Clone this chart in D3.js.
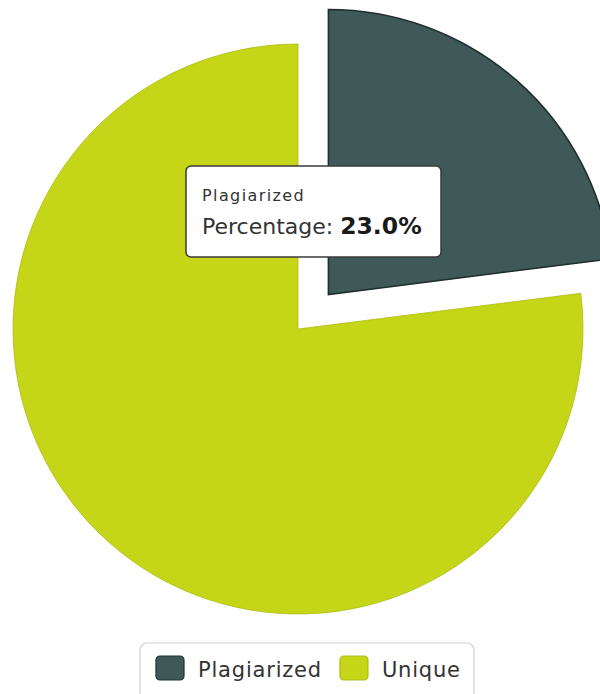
<!DOCTYPE html>
<html>
<head>
<meta charset="utf-8">
<script src="https://cdn.jsdelivr.net/npm/d3@7"></script>
<style>
  html, body { margin: 0; padding: 0; background: #ffffff; }
  svg { display: block; }
  text { font-family: "DejaVu Sans", sans-serif; }
</style>
</head>
<body>
<svg id="chart" width="600" height="694"></svg>
<script>
const categories = ["Plagiarized", "Unique"];
const values = [23.0, 77.0];
const colors = ["#3e5958", "#c5d518"];
const strokes = ["#1f2e2e", "#aebd10"];
const tooltipTitle = "Plagiarized";
const tooltipLabel = "Percentage: ";
const tooltipValue = "23.0%";

const svg = d3.select("#chart");
const cx = 298, cy = 329, radius = 285, explode = 46;

const pie = d3.pie().sort(null).value(d => d)(values);
const arc = d3.arc().innerRadius(0).outerRadius(radius);

const g = svg.append("g").attr("transform", `translate(${cx},${cy})`);
g.selectAll("path.slice")
  .data(pie)
  .join("path")
  .attr("class", "slice")
  .attr("d", arc)
  .attr("fill", (d, i) => colors[i])
  .attr("stroke", (d, i) => strokes[i])
  .attr("stroke-width", (d, i) => i === 0 ? 1.6 : 0.8)
  .attr("transform", (d, i) => {
    if (i !== 0) return null;
    const a = (d.startAngle + d.endAngle) / 2;
    return `translate(${Math.sin(a) * explode},${-Math.cos(a) * explode})`;
  });

// Tooltip
const tip = svg.append("g").attr("transform", "translate(186,166)");
tip.append("rect")
  .attr("x", 0).attr("y", 0).attr("width", 255).attr("height", 91)
  .attr("rx", 5)
  .attr("fill", "#ffffff")
  .attr("stroke", "#3a3a3a")
  .attr("stroke-width", 1.5);
tip.append("text")
  .attr("x", 16).attr("y", 35)
  .attr("font-size", 16)
  .attr("letter-spacing", 1.4)
  .attr("fill", "#333")
  .text(tooltipTitle);
const t2 = tip.append("text")
  .attr("x", 16).attr("y", 68)
  .attr("font-size", 22)
  .attr("fill", "#333");
t2.append("tspan").text(tooltipLabel);
t2.append("tspan").attr("font-weight", "bold").attr("font-size", 23.5).attr("fill", "#1a1a1a").text(tooltipValue);

// Legend
const legend = svg.append("g");
legend.append("rect")
  .attr("x", 140).attr("y", 643).attr("width", 334).attr("height", 62)
  .attr("rx", 7)
  .attr("fill", "#ffffff")
  .attr("stroke", "#cfcfcf")
  .attr("stroke-width", 1.2);
let lx = 156;
categories.forEach((c, i) => {
  legend.append("rect")
    .attr("x", lx).attr("y", 656).attr("width", 28).attr("height", 24)
    .attr("rx", 4)
    .attr("fill", colors[i])
    .attr("stroke", strokes[i])
    .attr("stroke-width", 1.2);
  const t = legend.append("text")
    .attr("x", lx + 42).attr("y", 677)
    .attr("font-size", 21)
    .attr("letter-spacing", 0.8)
    .attr("fill", "#333")
    .text(c);
  lx += 42 + t.node().getComputedTextLength() + 18;
});
</script>
</body>
</html>
